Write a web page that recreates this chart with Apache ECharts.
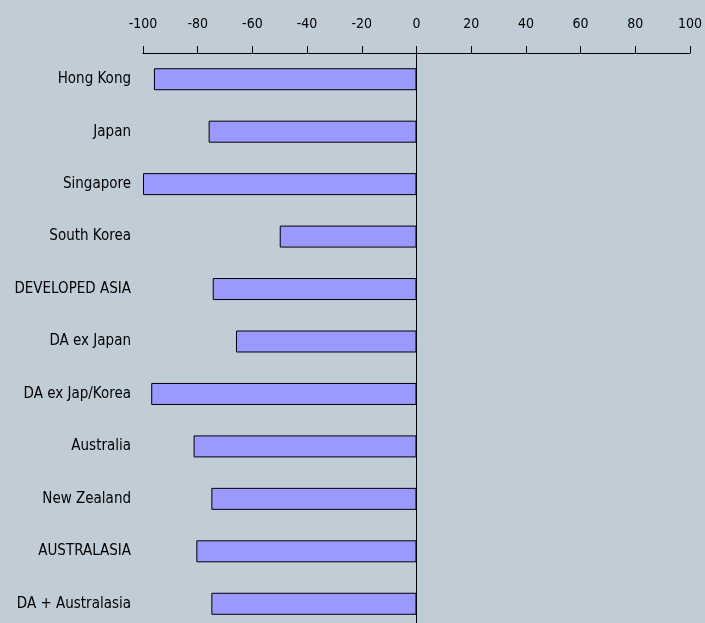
<!DOCTYPE html>
<html>
<head>
<meta charset="utf-8">
<script src="https://cdn.jsdelivr.net/npm/echarts@6/dist/echarts.min.js"></script>
<style>
  html, body { margin: 0; padding: 0; background: #c0ccd6; overflow: hidden; }
  #chart { width: 705px; height: 630px; }
</style>
</head>
<body>
<div id="chart"></div>
<script>
// 地区
const regions = [
  "Hong Kong", "Japan", "Singapore", "South Korea", "DEVELOPED ASIA",
  "DA ex Japan", "DA ex Jap/Korea", "Australia", "New Zealand",
  "AUSTRALASIA", "DA + Australasia"
];
// 数值
const values = [-96, -76, -100, -50, -74.5, -66, -97, -81.5, -75, -80.5, -75];
// 刻度
const axisMin = -100;
const axisMax = 100;
const axisStep = 20;

const chart = echarts.init(document.getElementById("chart"));
const font = "'DejaVu Sans Condensed', 'Liberation Sans', sans-serif";
const option = {
  backgroundColor: "#c0ccd6",
  animation: false,
  grid: {
    top: 53,
    left: 143,
    right: 13,
    bottom: 0,
  },
  xAxis: {
    type: "value",
    position: "top",
    min: axisMin,
    max: axisMax,
    interval: axisStep,
    axisLine: { show: true, lineStyle: { color: "#000", width: 1 } },
    axisTick: { show: true, length: 7, lineStyle: { color: "#000" } },
    axisLabel: { color: "#000", fontSize: 14, fontFamily: font, margin: 22 },
    splitLine: { show: false },
  },
  yAxis: {
    type: "category",
    inverse: true,
    data: regions,
    axisLine: { show: false, onZero: false },
    axisTick: { show: false },
    axisLabel: { color: "#000", fontSize: 15, fontFamily: font, margin: 12 },
  },
  series: [
    {
      type: "bar",
      data: values,
      barWidth: 22,
      itemStyle: { color: "#9999ff", borderColor: "#000", borderWidth: 1 },
      markLine: {
        silent: true,
        symbol: "none",
        label: { show: false },
        lineStyle: { color: "#000", type: "solid", width: 1 },
        data: [{ xAxis: 0 }],
      },
    },
  ],
};
chart.setOption(option);
</script>
</body>
</html>
